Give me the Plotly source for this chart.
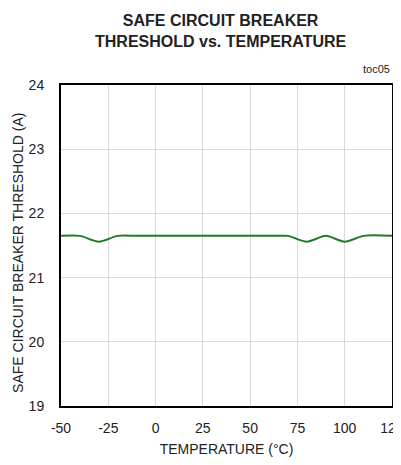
import plotly.graph_objects as go

temperature = [-50, -40, -30, -20, -10, 0, 25, 50, 65, 70, 80, 90, 100, 110, 125]
threshold = [21.65, 21.65, 21.56, 21.65, 21.65, 21.65, 21.65, 21.65, 21.65, 21.65, 21.56, 21.65, 21.56, 21.65, 21.65]

x_ticks = [-50, -25, 0, 25, 50, 75, 100, 125]
y_ticks = [19, 20, 21, 22, 23, 24]

fig = go.Figure()
fig.add_trace(go.Scatter(
    x=temperature, y=threshold, mode="lines",
    line=dict(color="#1f7a2b", width=2, shape="spline", smoothing=0.8),
    showlegend=False, hoverinfo="skip"))

font = "Liberation Sans, Arial, sans-serif"
fig.update_layout(
    width=401, height=449,
    margin=dict(l=53, r=17, t=77, b=51),
    paper_bgcolor="white", plot_bgcolor="white",
    font=dict(family=font, size=14, color="#222"),
    xaxis=dict(range=[-50, 125], tickvals=x_ticks, ticktext=[str(v) for v in x_ticks],
               showgrid=True, gridcolor="#d9d9d9", gridwidth=1,
               showline=True, linecolor="black", linewidth=2, mirror=True,
               ticks="", zeroline=False, automargin=False, ticklabeloverflow="allow",
               ticklabelstandoff=8,
               title=dict(text="TEMPERATURE (°C)", font=dict(size=14), standoff=12)),
    yaxis=dict(range=[19, 24], tickvals=y_ticks, ticktext=[str(v) for v in y_ticks],
               showgrid=True, gridcolor="#d9d9d9", gridwidth=1,
               showline=True, linecolor="black", linewidth=2, mirror=True,
               ticks="", zeroline=False, automargin=False, ticklabelstandoff=12),
    annotations=[
        dict(text="<b>SAFE CIRCUIT BREAKER<br>THRESHOLD vs. TEMPERATURE</b>",
             xref="paper", yref="paper", x=0.483, y=1.168,
             xanchor="center", yanchor="middle", showarrow=False,
             font=dict(family=font, size=16, color="#222")),
        dict(text="SAFE CIRCUIT BREAKER THRESHOLD (A)", textangle=-90,
             xref="paper", yref="paper", x=(10 - 53) / 331, y=0.477,
             xanchor="center", yanchor="middle", showarrow=False,
             font=dict(family=font, size=14, color="#222")),
        dict(text="toc05", xref="paper", yref="paper", x=1.0, y=1.025,
             xanchor="right", yanchor="bottom", showarrow=False,
             font=dict(family=font, size=11, color="#222")),
    ],
)

fig.write_html("out.html")
